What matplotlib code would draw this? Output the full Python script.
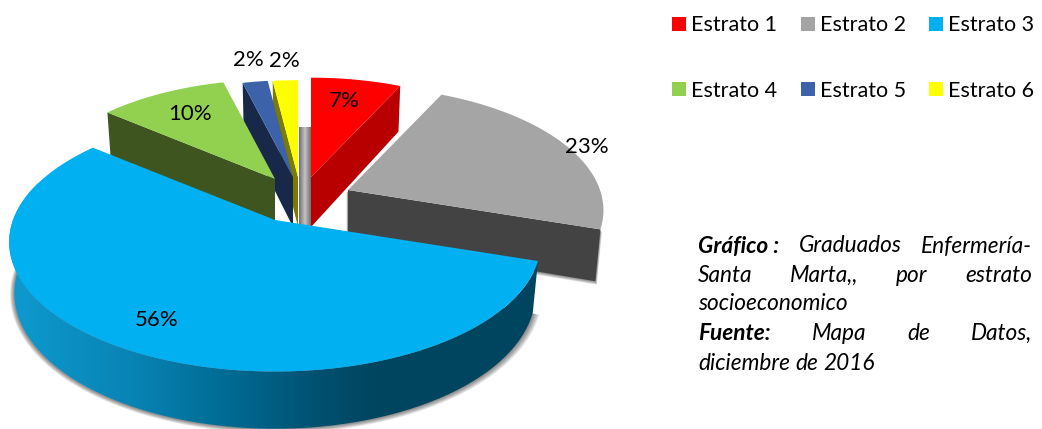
import numpy as np
import matplotlib
matplotlib.use('Agg')
import matplotlib.pyplot as plt
from matplotlib.colors import LinearSegmentedColormap
from matplotlib.patches import Polygon, Rectangle

plt.rcParams['font.family'] = ['Lato', 'DejaVu Sans']

# --- data ---
categories = ['Estrato 1', 'Estrato 2', 'Estrato 3', 'Estrato 4', 'Estrato 5', 'Estrato 6']
values = [7, 23, 56, 10, 2, 2]
top_colors = ['#FF0000', '#A5A5A5', '#00B0F0', '#92D050', '#3C63AA', '#FFFF00']
wall_colors = ['#B80000', '#434343', '#00506E', '#3F5520', '#182848', '#7B7B00']

# where each exploded slice sits in the picture (apex, radius)
apex_x = [311, 348, 275, 275, 293, 298]
apex_y = [177, 190, 220, 179, 177, 177]
radius = [239, 252, 262, 239, 232, 232]
label_x = [344, 587, 157, 190, 248, 284]
label_y = [101, 147, 320, 114, 60, 61]

TILT = 0.48
PERSP = 0.17 / 262
DROP = 50
BOTTOM_SHRINK = 0.98

angles = np.cumsum([0] + values) / sum(values) * 2 * np.pi


def project(ax_, ay_, r, theta, bottom=False):
    x = r * np.sin(theta)
    y = r * np.cos(theta)
    s = 1 / (1 + PERSP * y)
    if bottom:
        return ax_ + x * s * BOTTOM_SHRINK, ay_ + DROP * s - TILT * y * s * BOTTOM_SHRINK
    return ax_ + x * s, ay_ - TILT * y * s


def outline(i, t0, t1, bottom=False):
    th = np.linspace(t0, t1, 80)
    px, py = project(apex_x[i], apex_y[i], radius[i], th, bottom)
    return np.column_stack([px, py])


def radial_wall(i, theta):
    ax_, ay_ = apex_x[i], apex_y[i]
    cx, cy = project(ax_, ay_, radius[i], theta)
    bx, by = project(ax_, ay_, radius[i], theta, True)
    return [(ax_, ay_), (cx, cy), (bx, by), (ax_, ay_ + DROP)]


def arc_wall(i, t0, t1):
    return np.vstack([outline(i, t0, t1), outline(i, t0, t1, True)[::-1]])


def top_face(i):
    return np.vstack([[(apex_x[i], apex_y[i])], outline(i, angles[i], angles[i + 1])])


def shadow(ax, pts, z, step=0.0035):
    pts = np.asarray(pts)
    cx, cy = pts[:, 0].mean(), pts[:, 1].mean()
    for k in range(1, 7):
        grown = np.column_stack([cx + (pts[:, 0] - cx) * (1 + k * step),
                                 cy + (pts[:, 1] - cy) * (1 + k * step) + k * 0.5])
        ax.add_patch(Polygon(grown, closed=True, fc='black', ec='none', alpha=0.09, zorder=z))


def gradient_fill(ax, pts, stops, z):
    pts = np.asarray(pts)
    x0, x1 = pts[:, 0].min(), pts[:, 0].max()
    y0, y1 = pts[:, 1].min(), pts[:, 1].max()
    cmap = LinearSegmentedColormap.from_list('g', stops)
    im = ax.imshow(np.linspace(0, 1, 256).reshape(1, -1), cmap=cmap, aspect='auto',
                   extent=(x0, x1, y1, y0), zorder=z)
    clip = Polygon(pts, closed=True, fc='none', ec='none', transform=ax.transData)
    ax.add_patch(clip)
    im.set_clip_path(clip)


def justified(ax, words, y, left, right, size, renderer):
    # words = list of (text, weight); spreads them between left and right
    items = [ax.text(left, y, w, style='italic', weight=b, fontsize=size, va='center', ha='left', color='black')
             for w, b in words]
    widths = [t.get_window_extent(renderer).width for t in items]
    if right is None or len(items) == 1:
        gap = size * 0.32
    else:
        gap = (right - left - sum(widths)) / (len(items) - 1)
    x = left
    for t, w in zip(items, widths):
        t.set_x(x)
        x += w + gap


fig = plt.figure(figsize=(10.42, 4.29), dpi=100)
ax = fig.add_axes([0, 0, 1, 1])

# --- back slices first, painter's order ---
# red
ax.add_patch(Polygon(radial_wall(0, angles[1]), closed=True, fc=wall_colors[0], ec='none', zorder=2))
ax.add_patch(Polygon(top_face(0), closed=True, fc=top_colors[0], ec='none', zorder=3))
gradient_fill(ax, [(apex_x[0] - 12, apex_y[0] - 50), (apex_x[0], apex_y[0] - 50),
                   (apex_x[0], apex_y[0] + 50), (apex_x[0] - 12, apex_y[0] + 50)],
              ['#6E6E6E', '#C4C4C4', '#6E6E6E'], 2)
# gray
shadow(ax, radial_wall(1, angles[2]), 3, step=0.002)
ax.add_patch(Polygon(radial_wall(1, angles[2]), closed=True, fc=wall_colors[1], ec='none', zorder=4))
ax.add_patch(Polygon(top_face(1), closed=True, fc=top_colors[1], ec='none', zorder=5))
# yellow, then navy, then green
ax.add_patch(Polygon(radial_wall(5, angles[5]), closed=True, fc=wall_colors[5], ec='none', zorder=6))
ax.add_patch(Polygon(top_face(5), closed=True, fc=top_colors[5], ec='none', zorder=7))
ax.add_patch(Polygon(radial_wall(4, angles[4]), closed=True, fc=wall_colors[4], ec='none', zorder=8))
ax.add_patch(Polygon(top_face(4), closed=True, fc=top_colors[4], ec='none', zorder=9))
ax.add_patch(Polygon(radial_wall(3, angles[3]), closed=True, fc=wall_colors[3], ec='none', zorder=10))
ax.add_patch(Polygon(top_face(3), closed=True, fc=top_colors[3], ec='none', zorder=11))
# big blue slice in front
shadow(ax, outline(2, angles[2], 1.6 * np.pi, True), 12)
gradient_fill(ax, arc_wall(2, angles[2], 1.6 * np.pi),
              [(0.0, '#0E9ACF'), (0.23, '#0884B5'), (0.42, '#006A92'),
               (0.586, '#005070'), (0.70, '#004560'), (1.0, '#004560')], 13)
ax.add_patch(Polygon(top_face(2), closed=True, fc=top_colors[2], ec='none', zorder=14))

for i, v in enumerate(values):
    ax.text(label_x[i], label_y[i], f'{v}%', fontsize=16, ha='center', va='center', zorder=20)

# --- legend ---
order = [0, 3, 1, 4, 2, 5]
handles = [Rectangle((0, 0), 1, 1, fc=top_colors[i], ec='none') for i in order]
ax.legend(handles, [categories[i] for i in order], ncols=3, frameon=False, fontsize=15.5,
          loc='upper left', bbox_to_anchor=(668 / 1042, 1 - 11 / 429), borderaxespad=0, borderpad=0.2,
          handlelength=0.65, handleheight=0.65, handletextpad=0.24,
          columnspacing=1.07, labelspacing=2.1)

ax.set_xlim(0, 1042)
ax.set_ylim(429, 0)
ax.axis('off')

# --- justified caption ---
renderer = fig.canvas.get_renderer()
CAP = 16.3
justified(ax, [('Gráfico :', 'bold'), ('Graduados', 'normal'), ('Enfermería-', 'normal')], 246, 698, 1032, CAP, renderer)
justified(ax, [('Santa', 'normal'), ('Marta,,', 'normal'), ('por', 'normal'), ('estrato', 'normal')], 275, 698, 1032, CAP, renderer)
justified(ax, [('socioeconomico', 'normal')], 303, 698, None, CAP, renderer)
justified(ax, [('Fuente:', 'bold'), ('Mapa', 'normal'), ('de', 'normal'), ('Datos,', 'normal')], 333, 698, 1032, CAP, renderer)
justified(ax, [('diciembre', 'normal'), ('de', 'normal'), ('2016', 'normal')], 363, 698, None, CAP, renderer)

fig.savefig('out.png', dpi=100)
